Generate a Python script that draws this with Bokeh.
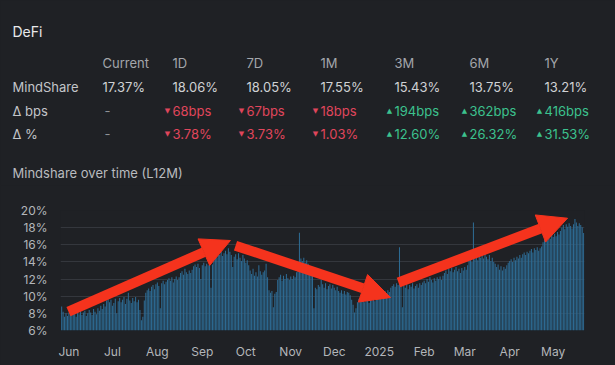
import pandas as pd
from bokeh.plotting import figure
from bokeh.models import (Range1d, FixedTicker, Arrow, NormalHead, ColumnDataSource,
                          PrintfTickFormatter)
from bokeh.core.properties import value
from bokeh.embed import file_html
from bokeh.resources import INLINE

# ---------------- data ----------------
title_text = "DeFi"
chart_title = "Mindshare over time (L12M)"
periods = ["Current", "1D", "7D", "1M", "3M", "6M", "1Y"]
row_labels = ["MindShare", "Δ bps", "Δ %"]
mindshare_row = ["17.37%", "18.06%", "18.05%", "17.55%", "15.43%", "13.75%", "13.21%"]
delta_bps_row = ["-", "68bps", "67bps", "18bps", "194bps", "362bps", "416bps"]
delta_pct_row = ["-", "3.78%", "3.73%", "1.03%", "12.60%", "26.32%", "31.53%"]
delta_dir = [0, -1, -1, -1, 1, 1, 1]

start_date = "2024-05-27"
mindshare_series = [
    8.8, 8.2, 7.6, 8.0, 7.7, 8.1, 7.8, 8.3, 7.9, 8.0,
    7.6, 8.2, 7.9, 8.4, 7.8, 8.1, 8.3, 7.7, 8.0, 8.4,
    8.1, 7.8, 8.5, 8.2, 7.9, 8.6, 8.3, 8.9, 8.5, 9.1,
    8.8, 9.5, 9.9, 9.3, 9.6, 8.9, 9.2, 9.7, 8.0, 9.4,
    9.8, 9.3, 9.6, 9.9, 9.1, 9.7, 10.4, 9.5, 9.2, 9.8,
    9.4, 9.9, 9.3, 9.6, 8.4, 7.2, 7.6, 9.5, 10.4, 10.7,
    10.9, 10.6, 11.1, 11.3, 10.8, 11.4, 11.6, 11.2, 8.6, 11.5,
    11.8, 11.4, 11.7, 11.9, 12.1, 11.8, 12.2, 11.6, 12.0, 12.3,
    11.9, 12.2, 12.7, 12.9, 12.5, 13.2, 12.8, 12.6, 13.0, 12.7,
    13.1, 13.5, 13.7, 13.4, 13.8, 13.3, 12.0, 13.6, 13.9, 13.5,
    13.8, 13.6, 13.9, 11.0, 13.7, 14.6, 14.9, 14.5, 15.1, 14.8,
    15.2, 14.7, 15.0, 15.3, 14.9, 15.6, 15.2, 14.8, 13.4, 14.6,
    14.9, 14.3, 15.0, 14.5, 14.1, 14.8, 14.4, 13.9, 14.2, 13.6,
    13.0, 12.6, 13.2, 12.4, 12.8, 12.3, 13.6, 12.9, 12.5, 12.8,
    13.0, 13.8, 12.2, 10.7, 10.4, 10.6, 8.7, 10.3, 10.5, 11.9,
    12.2, 12.5, 11.8, 12.4, 12.0, 12.6, 12.1, 11.9, 12.3, 12.0,
    12.4, 12.2, 12.8, 13.6, 17.4, 14.4, 14.1, 14.5, 13.9, 14.2,
    13.8, 13.3, 12.8, 12.4, 8.6, 11.0, 10.8, 11.3, 11.1, 11.9,
    11.4, 11.0, 11.5, 10.8, 11.2, 11.4, 10.9, 11.3, 11.0, 10.7,
    11.1, 10.6, 10.4, 10.7, 10.3, 10.6, 10.2, 10.5, 10.4, 10.1,
    9.6, 9.0, 8.1, 8.6, 9.3, 9.7, 9.4, 9.8, 9.5, 9.3,
    9.7, 9.6, 9.2, 9.8, 9.5, 9.9, 9.4, 9.7, 10.0, 10.2,
    9.9, 10.4, 10.1, 10.6, 10.3, 10.7, 10.5, 11.0, 11.2, 11.4,
    11.1, 11.5, 11.3, 15.7, 11.6, 8.7, 11.2, 11.0, 11.4, 10.8,
    11.3, 11.1, 11.5, 10.9, 11.2, 11.4, 11.0, 11.5, 11.3, 11.6,
    11.8, 11.5, 12.0, 11.7, 12.2, 11.9, 11.6, 12.1, 11.8, 12.2,
    12.0, 12.3, 11.9, 12.4, 12.7, 13.0, 12.6, 13.2, 12.9, 13.3,
    12.8, 13.1, 13.4, 12.9, 13.2, 12.7, 13.3, 13.0, 13.4, 13.1,
    13.6, 14.1, 14.4, 14.0, 18.6, 14.3, 14.7, 14.2, 14.9, 14.5,
    14.8, 14.4, 15.0, 14.6, 14.3, 14.8, 14.1, 14.5, 14.0, 13.8,
    13.4, 13.7, 13.1, 13.5, 13.0, 13.4, 13.2, 13.6, 13.9, 14.1,
    14.3, 14.0, 14.5, 14.2, 14.6, 14.4, 14.8, 14.5, 14.9, 15.1,
    14.8, 15.2, 15.0, 15.3, 15.5, 15.1, 15.6, 15.4, 15.7, 15.3,
    15.6, 15.8, 16.3, 16.6, 16.9, 16.5, 17.0, 16.7, 17.2, 16.9,
    17.3, 17.0, 17.5, 17.2, 17.6, 18.0, 18.3, 17.8, 18.4, 18.1,
    18.5, 18.2, 17.9, 18.4, 19.0, 18.6, 18.2, 18.5, 18.3, 18.06,
    17.37,
]
y_ticks = [6, 8, 10, 12, 14, 16, 18, 20]

# annotation arrows (day index, percent)
arrow_x0 = [4.7, 119.9, 232.3]
arrow_y0 = [8.2, 15.9, 11.6]
arrow_x1 = [116.4, 226.8, 348.9]
arrow_y1 = [16.5, 9.85, 19.1]

# ---------------- styles ----------------
BG = "#1f2125"
FONT = "Inter"
RED = "#e0465c"
GREEN = "#3cc28e"
BAR = "#2d6a92"
ARROW = "#f5331d"

W = 615
TOP_H = 185
CH_H = 180

# ---------------- top (table) ----------------
top = figure(width=W, height=TOP_H, output_backend="svg", toolbar_location=None,
             x_range=Range1d(0, W), y_range=Range1d(TOP_H, 0),
             x_axis_location=None, y_axis_location=None,
             min_border=0, background_fill_color=BG, border_fill_color=BG,
             outline_line_color=None)
top.grid.visible = False

col_x = [102, 172, 246, 320, 394, 469, 544]
row_y = [86, 110, 133]


def txt(x, y, t, color, size="13px", font=FONT, align="left"):
    src = ColumnDataSource(dict(x=x, y=y, t=t))
    top.text("x", "y", text="t", source=src, text_color=color,
             text_font=value(font), text_font_size=value(size),
             text_baseline="middle", text_align=align)


txt([12], [31], [title_text], "#e8e9eb", size="14px")
txt(col_x, [62] * 7, periods, "#a3a6ab")
txt([12] * 3, row_y, row_labels, "#c3c5c9")
txt(col_x, [86] * 7, mindshare_row, "#cfd1d4")

for ri, row in zip([1, 2], [delta_bps_row, delta_pct_row]):
    y = row_y[ri]
    for ci, (s, d) in enumerate(zip(row, delta_dir)):
        if d == 0:
            txt([col_x[ci] + 2], [y], [s], "#8e9196")
        else:
            c = RED if d < 0 else GREEN
            tri = "▼" if d < 0 else "▲"
            txt([col_x[ci] - 5], [y], [tri], c, size="7px", font="DejaVu Sans", align="center")
            txt([col_x[ci]], [y], [s], c)

txt([12], [172], [chart_title], "#b9bbbf")

# ---------------- chart ----------------
dates = pd.date_range(start_date, periods=len(mindshare_series), freq="D")
idx = list(range(len(mindshare_series)))
src = ColumnDataSource(dict(x=idx, top=mindshare_series))

ch = figure(width=W, height=CH_H, output_backend="svg", toolbar_location=None,
            x_range=Range1d(-0.8, len(idx) - 1 + 0.6), y_range=Range1d(6, 20),
            min_border_left=60, min_border_right=31, min_border_top=25, min_border_bottom=35,
            background_fill_color=BG, border_fill_color=BG, outline_line_color=None)
ch.vbar(x="x", top="top", bottom=6, width=0.72, source=src,
        fill_color=BAR, line_color=None)

month_idx = [i for i, d in enumerate(dates) if d.day == 1]
month_lab = {i: (dates[i].strftime("%Y") if dates[i].month == 1 else dates[i].strftime("%b"))
             for i in month_idx}
ch.xaxis.ticker = FixedTicker(ticks=month_idx)
ch.xaxis.major_label_overrides = month_lab
ch.yaxis.ticker = FixedTicker(ticks=y_ticks)
ch.yaxis.formatter = PrintfTickFormatter(format="%d%%")

for ax in ch.axis:
    ax.axis_line_color = None
    ax.major_tick_line_color = None
    ax.minor_tick_line_color = None
    ax.major_label_text_color = "#b3b6ba"
    ax.major_label_text_font = FONT
    ax.major_label_text_font_size = "12px"
ch.xaxis.major_label_standoff = 7
ch.yaxis.major_label_standoff = 7
ch.xgrid.visible = False
ch.ygrid.grid_line_color = "#34373d"
ch.ygrid.grid_line_width = 1

for x0, y0, x1, y1 in zip(arrow_x0, arrow_y0, arrow_x1, arrow_y1):
    ch.add_layout(Arrow(x_start=x0, y_start=y0, x_end=x1, y_end=y1,
                        line_color=ARROW, line_width=10,
                        end=NormalHead(size=29, fill_color=ARROW, line_color=ARROW, line_width=1)))

template = ("{% block postamble %}<style>html,body{background-color:#1f2125;margin:0;padding:0;"
            "overflow:hidden;}</style>{% endblock %}")
# two independent roots, stacked on the page (no frame alignment between them)
open("out.html", "w").write(file_html([top, ch], INLINE, template=template))
